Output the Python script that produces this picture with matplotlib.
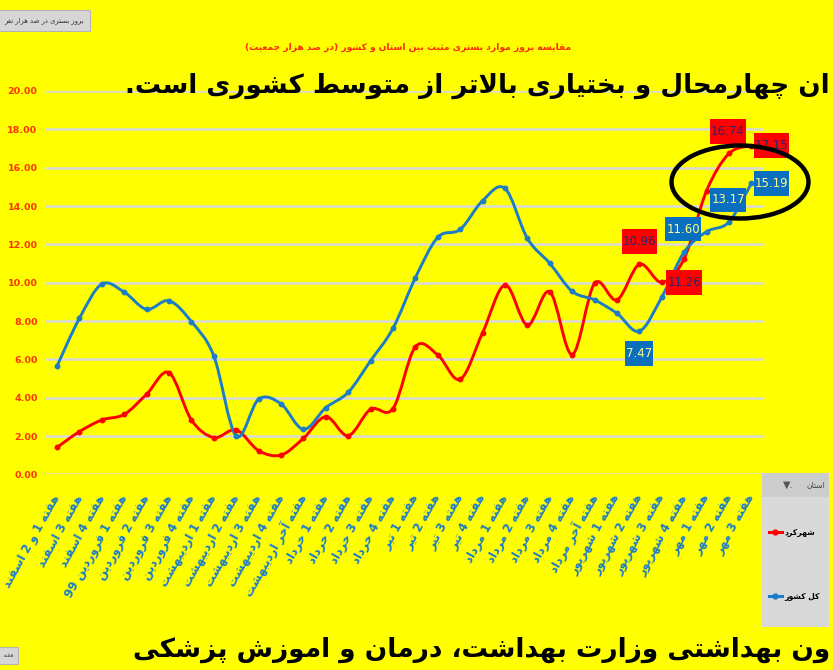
import re
import matplotlib
matplotlib.use('Agg')
import matplotlib.pyplot as plt
from matplotlib.path import Path
from matplotlib.patches import PathPatch, Ellipse, Rectangle
from matplotlib.lines import Line2D
import numpy as np

# weekly categories (Persian calendar, 1398-1399)
weeks = [
    'هفته 1 و 2 اسفند', 'هفته 3 اسفند', 'هفته 4 اسفند', 'هفته 1 فروردین 99',
    'هفته 2 فروردین', 'هفته 3 فروردین', 'هفته 4 فروردین', 'هفته 1 اردیبهشت',
    'هفته 2 اردیبهشت', 'هفته 3 اردیبهشت', 'هفته 4 اردیبهشت', 'هفته آخر اردیبهشت',
    'هفته 1 خرداد', 'هفته 2 خرداد', 'هفته 3 خرداد', 'هفته 4 خرداد',
    'هفته 1 تیر', 'هفته 2 تیر', 'هفته 3 تیر', 'هفته 4 تیر',
    'هفته 1 مرداد', 'هفته 2 مرداد', 'هفته 3 مرداد', 'هفته 4 مرداد', 'هفته آخر مرداد',
    'هفته 1 شهریور', 'هفته 2 شهریور', 'هفته 3 شهریور', 'هفته 4 شهریور',
    'هفته 1 مهر', 'هفته 2 مهر', 'هفته 3 مهر',
]

# hospitalisation incidence per 100k
shahrekord = [1.41, 2.23, 2.84, 3.13, 4.18, 5.31, 2.84, 1.92, 2.32, 1.24, 1.01,
              1.88, 3.01, 2.02, 3.40, 3.43, 6.66, 6.23, 4.96, 7.39, 9.88, 7.79,
              9.53, 6.25, 9.97, 9.10, 10.96, 10.02, 11.26, 14.80, 16.74, 17.15]
country = [5.65, 8.14, 9.93, 9.51, 8.61, 9.06, 7.97, 6.18, 2.00, 3.92, 3.68,
           2.35, 3.48, 4.28, 5.93, 7.62, 10.26, 12.37, 12.78, 14.28, 14.92, 12.31,
           11.01, 9.55, 9.10, 8.40, 7.47, 9.25, 11.60, 12.66, 13.17, 15.19]

series_names = ['شهرکرد', 'کل کشور']
yticks = np.arange(0, 21, 2)

title = 'مقایسه بروز موارد بستری مثبت بین استان و کشور (در صد هزار جمعیت)'
top_note = 'ان چهارمحال و بختیاری بالاتر از متوسط کشوری است.'
bottom_note = 'ون بهداشتی وزارت بهداشت، درمان و اموزش پزشکی'
button_text = 'بروز بستری در صد هزار نفر'

RED = '#ff0000'
BLUE = '#1c7cc8'
BOX_BLUE = '#0a6fbf'
YELLOW = '#ffff00'

# --- minimal Arabic/Persian shaping so DejaVu draws joined letters ---
FORMS = {
    'ا': (0xFE8D, 0xFE8E, None, None), 'آ': (0xFE81, 0xFE82, None, None),
    'ب': (0xFE8F, 0xFE90, 0xFE91, 0xFE92), 'پ': (0xFB56, 0xFB57, 0xFB58, 0xFB59),
    'ت': (0xFE95, 0xFE96, 0xFE97, 0xFE98), 'ث': (0xFE99, 0xFE9A, 0xFE9B, 0xFE9C),
    'ج': (0xFE9D, 0xFE9E, 0xFE9F, 0xFEA0), 'چ': (0xFB7A, 0xFB7B, 0xFB7C, 0xFB7D),
    'ح': (0xFEA1, 0xFEA2, 0xFEA3, 0xFEA4), 'خ': (0xFEA5, 0xFEA6, 0xFEA7, 0xFEA8),
    'د': (0xFEA9, 0xFEAA, None, None), 'ذ': (0xFEAB, 0xFEAC, None, None),
    'ر': (0xFEAD, 0xFEAE, None, None), 'ز': (0xFEAF, 0xFEB0, None, None),
    'ژ': (0xFB8A, 0xFB8B, None, None),
    'س': (0xFEB1, 0xFEB2, 0xFEB3, 0xFEB4), 'ش': (0xFEB5, 0xFEB6, 0xFEB7, 0xFEB8),
    'ص': (0xFEB9, 0xFEBA, 0xFEBB, 0xFEBC), 'ض': (0xFEBD, 0xFEBE, 0xFEBF, 0xFEC0),
    'ط': (0xFEC1, 0xFEC2, 0xFEC3, 0xFEC4), 'ظ': (0xFEC5, 0xFEC6, 0xFEC7, 0xFEC8),
    'ع': (0xFEC9, 0xFECA, 0xFECB, 0xFECC), 'غ': (0xFECD, 0xFECE, 0xFECF, 0xFED0),
    'ف': (0xFED1, 0xFED2, 0xFED3, 0xFED4), 'ق': (0xFED5, 0xFED6, 0xFED7, 0xFED8),
    'ک': (0xFB8E, 0xFB8F, 0xFB90, 0xFB91), 'گ': (0xFB92, 0xFB93, 0xFB94, 0xFB95),
    'ل': (0xFEDD, 0xFEDE, 0xFEDF, 0xFEE0), 'م': (0xFEE1, 0xFEE2, 0xFEE3, 0xFEE4),
    'ن': (0xFEE5, 0xFEE6, 0xFEE7, 0xFEE8), 'و': (0xFEED, 0xFEEE, None, None),
    'ه': (0xFEE9, 0xFEEA, 0xFEEB, 0xFEEC), 'ی': (0xFBFC, 0xFBFD, 0xFBFE, 0xFBFF),
}


def joins_next(c):
    return c in FORMS and FORMS[c][2] is not None


def shape(s):
    out = []
    i = 0
    while i < len(s):
        c = s[i]
        if c not in FORMS:
            out.append(c)
            i += 1
            continue
        prev_joins = i > 0 and joins_next(s[i - 1])
        if c == 'ل' and i + 1 < len(s) and s[i + 1] == 'ا':
            out.append(chr(0xFEFC if prev_joins else 0xFEFB))
            i += 2
            continue
        nxt = s[i + 1] if i + 1 < len(s) else ''
        next_joins = joins_next(c) and nxt in FORMS
        iso, fin, ini, med = FORMS[c]
        if prev_joins and next_joins:
            g = med
        elif prev_joins:
            g = fin
        elif next_joins:
            g = ini
        else:
            g = iso
        out.append(chr(g))
        i += 1
    return ''.join(out)


def rtl(s):
    v = shape(s)[::-1].translate(str.maketrans('()', ')('))
    return re.sub(r'[0-9]+', lambda m: m.group(0)[::-1], v)


def smooth_path(x, y):
    # Excel-style smoothed line: cubic Bezier through every point
    pts = np.column_stack([x, y]).astype(float)
    verts = [pts[0]]
    codes = [Path.MOVETO]
    for i in range(len(pts) - 1):
        p0 = pts[i - 1] if i > 0 else pts[i]
        p1, p2 = pts[i], pts[i + 1]
        p3 = pts[i + 2] if i + 2 < len(pts) else p2
        verts += [p1 + (p2 - p0) / 6, p2 - (p3 - p1) / 6, p2]
        codes += [Path.CURVE4] * 3
    return Path(verts, codes)


def label_box(x0, y0, width, height, mutation_size):
    # narrow, tall box like the Excel data labels
    px, py = 0.08 * mutation_size, 0.5 * mutation_size
    x0, y0, x1, y1 = x0 - px, y0 - py, x0 + width + px, y0 + height + py
    return Path([(x0, y0), (x1, y0), (x1, y1), (x0, y1), (x0, y0)], closed=True)


W, H = 833, 670
fig = plt.figure(figsize=(W / 100, H / 100), dpi=100, facecolor=YELLOW)


def fx(x):
    return x / W


def fy(y):
    return 1 - y / H


ax = fig.add_axes([fx(45.8), fy(474.4), (762.6 - 45.8) / W, (474.4 - 91) / H])
ax.set_facecolor(YELLOW)
x = np.arange(len(weeks))

for vals, col in [(shahrekord, RED), (country, BLUE)]:
    ax.add_patch(PathPatch(smooth_path(x, vals), fill=False, edgecolor=col,
                           lw=2.1, capstyle='round', joinstyle='round', zorder=3))
    ax.plot(x, vals, 'o', ms=3.2, color=col, zorder=4)

ax.set_xlim(-0.5, len(weeks) - 0.5)
ax.set_ylim(0, 20)
ax.set_yticks(yticks)
ax.set_yticklabels([f'{v:.2f}' for v in yticks], color='#ff3300', fontsize=6.8,
                   fontweight='bold', family='DejaVu Sans')
ax.set_xticks(x)
ax.set_xticklabels([rtl(w) for w in weeks], rotation=61, ha='right', va='center',
                   rotation_mode='anchor', color=BLUE, fontsize=8.5, fontweight='bold',
                   family='DejaVu Sans')
ax.tick_params(axis='both', length=0)
ax.tick_params(axis='y', pad=6)
ax.tick_params(axis='x', pad=15)
ax.yaxis.grid(True, color='#d9d9d9', lw=1.8)
ax.set_axisbelow(True)
for s in ax.spines.values():
    s.set_visible(False)

# data labels: (index, pixel offset)
red_labels = [(26, (0, 23)), (28, (0, -24)), (30, (-1, 22)), (31, (20, 0))]
blue_labels = [(26, (0, -22)), (28, (-1, 23)), (30, (-1, 22)), (31, (20, 0))]
for vals, labels, fc, tc in [(shahrekord, red_labels, RED, '#2b2466'),
                             (country, blue_labels, BOX_BLUE, '#ffff8c')]:
    for i, off in labels:
        ax.annotate(f'{vals[i]:.2f}', (x[i], vals[i]), xytext=off,
                    textcoords='offset pixels', ha='center', va='center',
                    fontsize=8.5, color=tc, zorder=6, family='DejaVu Sans',
                    bbox=dict(boxstyle=label_box, fc=fc, ec='none'))

# highlight ellipse around the last weeks
fig.add_artist(Ellipse((fx(740), fy(182)), 137 / W, 73 / H, fill=False,
                       ec='black', lw=3.2, zorder=10))

# title
fig.text(fx(408), fy(47), rtl(title), ha='center', va='center', color='#ff2a00',
         fontsize=6.6, fontweight='bold', family='DejaVu Sans')

# big overlay notes
renderer = fig.canvas.get_renderer()


def fit_width(t, width_px):
    w = t.get_window_extent(renderer).width
    t.set_fontsize(t.get_fontsize() * width_px / w)


t1 = fig.text(fx(125), fy(86), rtl(top_note), ha='left', va='center', color='black',
              fontsize=20, fontweight='bold', family='DejaVu Sans', zorder=12)
fit_width(t1, 704)
t2 = fig.text(fx(133), fy(650), rtl(bottom_note), ha='left', va='center', color='black',
              fontsize=20, fontweight='bold', family='DejaVu Sans', zorder=12)
fit_width(t2, 696)

# slicer-like buttons
fig.add_artist(Rectangle((fx(-2), fy(31)), 92 / W, 21 / H, fc='#d6d6d6', ec='#b5b5b5', lw=0.8))
t3 = fig.text(fx(84), fy(20.5), rtl(button_text), ha='right', va='center', fontsize=5.5,
              color='#333333', family='DejaVu Sans')
fit_width(t3, 80)
fig.add_artist(Rectangle((fx(-2), fy(664)), 20 / W, 17 / H, fc='#d6d6d6', ec='#b5b5b5', lw=0.8))
fig.text(fx(8), fy(655.5), rtl('هفته'), ha='center', va='center', fontsize=4.5,
         color='#555555', family='DejaVu Sans')

# legend panel
fig.add_artist(Rectangle((fx(762), fy(627)), 67 / W, 154 / H, fc='#d9d9d9', ec='none'))
fig.add_artist(Rectangle((fx(762), fy(497)), 67 / W, 24 / H, fc='#cdcdcd', ec='none'))
fig.text(fx(825), fy(485), rtl('استان'), ha='right', va='center', fontsize=5.5,
         color='#444444', family='DejaVu Sans')
fig.text(fx(788), fy(485), '▼.', ha='center', va='center', fontsize=7,
         color='#555555', family='DejaVu Sans')
handles = [Line2D([], [], color=RED, lw=2.2, marker='o', ms=3.5),
           Line2D([], [], color=BLUE, lw=2.2, marker='o', ms=3.5)]
fig.legend(handles, [rtl(n) for n in series_names], loc='upper left',
           bbox_to_anchor=(fx(762), fy(521)), frameon=False, handlelength=1.7,
           handletextpad=0.3, labelspacing=7.2,
           prop=dict(family='DejaVu Sans', weight='bold', size=5.5))

fig.savefig('out.png', dpi=100, facecolor=YELLOW)
